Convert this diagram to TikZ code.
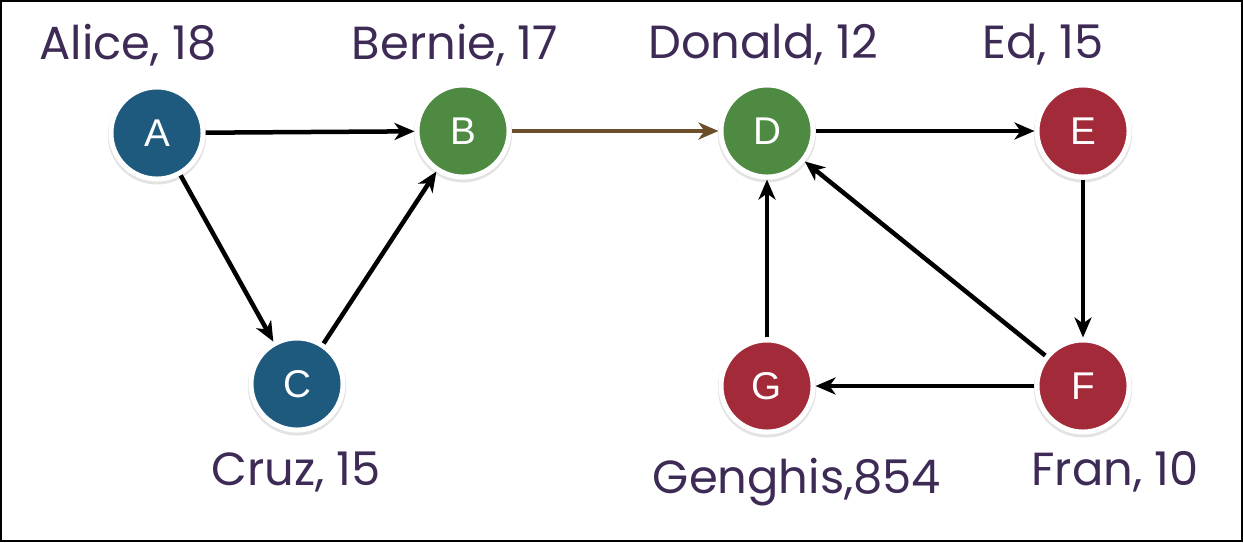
\documentclass[tikz,border=0pt]{standalone}
\usepackage{fontspec}
\setmainfont{Liberation Sans}
\newfontfamily\handfont{Poppins}
\usepackage{tikz}
\usetikzlibrary{arrows.meta,shadows,positioning}
\definecolor{nodeblue}{HTML}{1D5A7E}
\definecolor{nodegreen}{HTML}{4F8A43}
\definecolor{nodered}{HTML}{A32A38}
\definecolor{edgebrown}{HTML}{6B4F2A}
\definecolor{labelink}{HTML}{3D2B56}
\tikzset{
  person/.style={circle,draw=white,line width=0.05cm,minimum size=0.92cm,inner sep=0pt,
    text=white,font=\fontsize{11}{12}\selectfont,
    drop shadow={shadow xshift=0pt,shadow yshift=-0.6pt,opacity=0.22,shadow scale=1.07}},
  agelabel/.style={text=labelink,font=\handfont\fontsize{13.2}{15}\selectfont,inner sep=0pt},
  link/.style={-{Stealth[length=0.2cm,width=0.17cm,inset=0.06cm]},line width=0.045cm,black}
}
\begin{document}
\begin{tikzpicture}[x=0.01cm,y=-0.01cm]
\useasboundingbox (0,0) rectangle (1243,542);
\draw[line width=0.015cm] (1,1) rectangle (1242,541);
% people
\node[person,fill=nodeblue] (A) at (157,133) {A};
\node[person,fill=nodegreen] (B) at (463,131) {B};
\node[person,fill=nodeblue] (C) at (297,384) {C};
\node[person,fill=nodegreen] (D) at (767,131) {D};
\node[person,fill=nodered] (E) at (1083,131) {E};
\node[person,fill=nodered] (F) at (1083,386) {F};
\node[person,fill=nodered] (G) at (767,386) {G};
% names
\node[agelabel] (Aname) at (128,45) {Alice, 18};
\node[agelabel] (Bname) at (455,45) {Bernie, 17};
\node[agelabel] (Dname) at (763,45) {Donald, 12};
\node[agelabel] (Ename) at (1043,45) {Ed, 15};
\node[agelabel] (Cname) at (296,472) {Cruz, 15};
\node[agelabel] (Gname) at (797,482) {Genghis,854};
\node[agelabel] (Fname) at (1115,472) {Fran, 10};
% links
\draw[link] (A) -- (B);
\draw[link] (A) -- (C);
\draw[link] (C) -- (B);
\draw[link,edgebrown] (B) -- (D);
\draw[link] (D) -- (E);
\draw[link] (E) -- (F);
\draw[link] (F) -- (G);
\draw[link] (G) -- (D);
\draw[link] (F) -- (D);
\end{tikzpicture}
\end{document}
